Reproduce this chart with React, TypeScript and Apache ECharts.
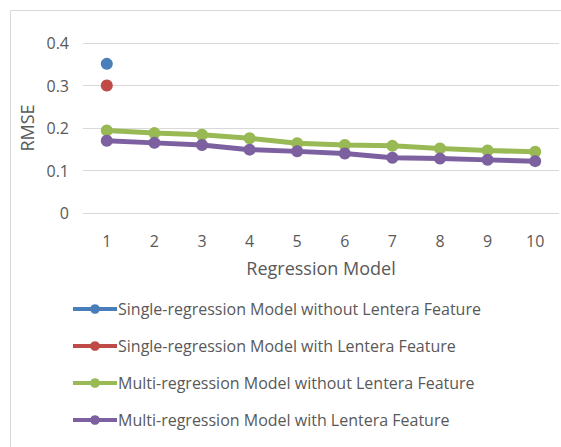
import React, { useEffect, useRef } from "react";
import * as echarts from "echarts";

const categories = ["1", "2", "3", "4", "5", "6", "7", "8", "9", "10"];
const singleWithout = [0.351, null, null, null, null, null, null, null, null, null];
const singleWith = [0.3, null, null, null, null, null, null, null, null, null];
const multiWithout = [0.194, 0.188, 0.184, 0.176, 0.164, 0.16, 0.158, 0.152, 0.147, 0.144];
const multiWith = [0.17, 0.165, 0.16, 0.149, 0.145, 0.14, 0.13, 0.128, 0.125, 0.122];
const yTicks = [0, 0.1, 0.2, 0.3, 0.4];

const seriesNames = [
  "Single-regression Model without Lentera Feature",
  "Single-regression Model with Lentera Feature",
  "Multi-regression Model without Lentera Feature",
  "Multi-regression Model with Lentera Feature",
];
const colors = ["#4A7EBB", "#BE4B48", "#98B954", "#7D60A0"];

export default function App() {
  const ref = useRef<HTMLDivElement>(null);
  useEffect(() => {
    if (!ref.current) return;
    const chart = echarts.init(ref.current, null, { renderer: "svg" });
    const font = "Open Sans";
    const mk = (i: number, data: (number | null)[]) => ({
      name: seriesNames[i],
      type: "line",
      data,
      color: colors[i],
      symbol: "circle",
      symbolSize: 12,
      lineStyle: { width: 5, color: colors[i] },
      itemStyle: { color: colors[i] },
      connectNulls: false,
    });
    chart.setOption({
      animation: false,
      backgroundColor: "#ffffff",
      textStyle: { fontFamily: font },
      graphic: [
        {
          type: "rect",
          shape: { x: 10.5, y: 10.5, width: 620, height: 500 },
          style: { fill: "none", stroke: "#d9d9d9", lineWidth: 1 },
          silent: true,
          z: -1,
        },
      ],
      grid: { left: 83, right: 2, top: 43, height: 170 },
      legend: {
        orient: "vertical",
        left: 66,
        top: 296,
        itemWidth: 44,
        itemHeight: 12,
        itemGap: 21,
        lineStyle: { width: 4 },
        textStyle: { fontFamily: font, fontSize: 16, color: "#595959", padding: [0, 0, 0, -4] },
        data: seriesNames,
      },
      xAxis: {
        type: "category",
        data: categories,
        boundaryGap: true,
        name: "Regression Model",
        nameLocation: "middle",
        nameGap: 46,
        nameTextStyle: { fontFamily: font, fontSize: 18, color: "#595959" },
        axisLine: { show: false },
        axisTick: { show: false },
        axisLabel: { fontFamily: font, fontSize: 16, color: "#595959", margin: 20 },
      },
      yAxis: {
        type: "value",
        min: yTicks[0],
        max: yTicks[yTicks.length - 1],
        interval: 0.1,
        name: "RMSE",
        nameLocation: "middle",
        nameGap: 47,
        nameTextStyle: { fontFamily: font, fontSize: 18, color: "#595959" },
        axisLine: { show: false },
        axisTick: { show: false },
        axisLabel: { fontFamily: font, fontSize: 16, color: "#595959", margin: 14 },
        splitLine: { lineStyle: { color: "#d9d9d9", width: 1 } },
      },
      series: [mk(0, singleWithout), mk(1, singleWith), mk(2, multiWithout), mk(3, multiWith)],
    });
    return () => chart.dispose();
  }, []);
  return (
    <div
      ref={ref}
      style={{ position: "fixed", left: 0, top: 0, width: 561, height: 447 }}
    />
  );
}
